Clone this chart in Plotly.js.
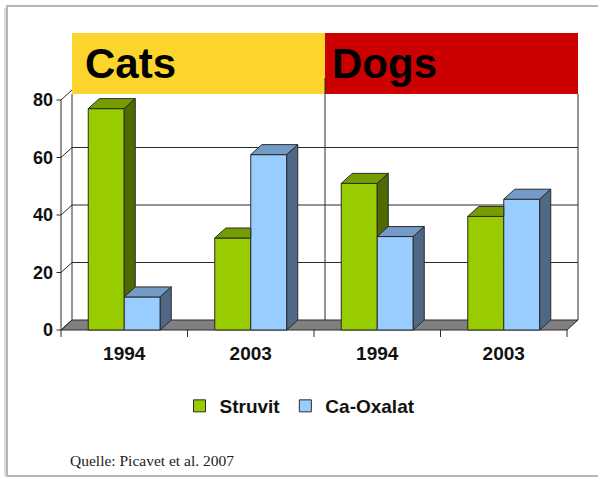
<!DOCTYPE html>
<html><head><meta charset="utf-8">
<script src="https://cdn.plot.ly/plotly-3.0.1.min.js"></script>
<style>html,body{margin:0;padding:0;background:#fff;overflow:hidden}#chart{width:598px;height:477px}</style>
</head><body><div id="chart"></div>
<script>
// ---- data ----
const panels = ['Cats', 'Dogs'];
const years = ['1994', '2003', '1994', '2003'];
const struvit = [77, 32, 51, 39.5];
const caOxalat = [11.5, 61, 32.5, 45.5];
const yTicks = [0, 20, 40, 60, 80];
const source = 'Quelle: Picavet et al. 2007';

// ---- geometry (pixels) ----
const W = 598, H = 477;
const X0 = 61, PX_X = 126.5;   // front x=0 pixel, pixels per category slot
const Y0 = 330, PX_Y = 2.875;  // front y=0 pixel, pixels per unit
const plotL = 56, plotR = 582, plotT = 30, plotB = 334;
const DX = 11 / PX_X, DY = 10 / PX_Y;   // 3D depth offset in data units
const BAR_W = 36 / PX_X;
const xRange = [(plotL - X0) / PX_X, (plotR - X0) / PX_X];
const yRange = [(Y0 - plotB) / PX_Y, (Y0 - plotT) / PX_Y];
const px2x = p => (p - X0) / PX_X;
const px2y = p => (Y0 - p) / PX_Y;
const paperX = p => (p - plotL) / (plotR - plotL);
const paperY = p => (plotB - p) / (plotB - plotT);
const nSlots = years.length;
const centers = years.map((_, i) => i + 0.5);
const yMax = yTicks[yTicks.length - 1];
const bandBottom = px2y(94), bandTop = px2y(33);

const EDGE = '#2a2a2a';
const COLORS = {
  struvit: {front: '#99CC00', top: '#759c00', side: '#4e6a00'},
  caox: {front: '#99CCFF', top: '#739bc6', side: '#4f6886'}
};

const traces = [
  {type: 'bar', name: 'Struvit', x: centers, y: struvit, width: BAR_W, offset: -BAR_W,
   marker: {color: COLORS.struvit.front, line: {color: EDGE, width: 1}}, hoverinfo: 'skip'},
  {type: 'bar', name: 'Ca-Oxalat', x: centers, y: caOxalat, width: BAR_W, offset: 0,
   marker: {color: COLORS.caox.front, line: {color: EDGE, width: 1}}, hoverinfo: 'skip'}
];

function poly(pts, color) {
  traces.push({type: 'scatter', mode: 'lines', fill: 'toself', fillcolor: color,
    x: pts.map(p => p[0]).concat([pts[0][0]]), y: pts.map(p => p[1]).concat([pts[0][1]]),
    line: {color: EDGE, width: 1}, showlegend: false, hoverinfo: 'skip'});
}

centers.forEach((c, i) => {
  const a = struvit[i], b = caOxalat[i];
  const sL = c - BAR_W, sR = c, cL = c, cR = c + BAR_W;
  if (a > b) {
    poly([[sL, a], [sR, a], [sR + DX, a + DY], [sL + DX, a + DY]], COLORS.struvit.top);
    poly([[sR, b], [sR, a], [sR + DX, a + DY], [sR + DX, b + DY]], COLORS.struvit.side);
  } else {
    poly([[sL, a], [sR, a], [sR, a + DY], [sL + DX, a + DY]], COLORS.struvit.top);
  }
  poly([[cL, b], [cR, b], [cR + DX, b + DY], [cL + DX, b + DY]], COLORS.caox.top);
  poly([[cR, 0], [cR + DX, DY], [cR + DX, b + DY], [cR, b]], COLORS.caox.side);
});

// ---- decorations ----
const shapes = [];
const line = (x0, y0, x1, y1, extra) => Object.assign({type: 'line', xref: 'x', yref: 'y', x0, y0, x1, y1,
  line: {color: EDGE, width: 1}, layer: 'below'}, extra || {});
// outer frame
shapes.push({type: 'rect', xref: 'paper', yref: 'paper', x0: paperX(7), x1: paperX(603),
  y0: paperY(476), y1: paperY(6), line: {color: '#b5b5b5', width: 2}, layer: 'below'});
shapes.push({type: 'line', xref: 'paper', yref: 'paper', x0: paperX(5), x1: paperX(5),
  y0: paperY(476), y1: paperY(8), line: {color: '#dcdcdc', width: 2}, layer: 'below'});
// floor
shapes.push({type: 'path', xref: 'x', yref: 'y', layer: 'below', fillcolor: '#808080',
  line: {color: EDGE, width: 1},
  path: `M0,0 L${nSlots},0 L${nSlots + DX},${DY} L${DX},${DY} Z`});
// back wall grid lines
yTicks.slice(1, -1).forEach(v => shapes.push(line(DX, v + DY, nSlots + DX, v + DY)));
shapes.push(line(DX, DY, DX, bandBottom));
shapes.push(line(nSlots + DX, DY, nSlots + DX, bandBottom));
// left wall diagonals + front ticks
yTicks.forEach(v => shapes.push({type: 'path', xref: 'x', yref: 'y', layer: 'below',
  line: {color: EDGE, width: 1}, path: `M${px2x(56.5)},${v} L0,${v} L${DX},${v + DY}`}));
// front y axis line
shapes.push(line(0, 0, 0, yMax));
// x boundary ticks
for (let k = 0; k <= nSlots; k++) {
  shapes.push({type: 'line', xref: 'x', yref: 'paper', x0: k, x1: k, y0: paperY(330), y1: paperY(337),
    line: {color: EDGE, width: 1}, layer: 'below'});
}
// header bands
shapes.push({type: 'rect', xref: 'x', yref: 'y', x0: DX, x1: nSlots / 2 + DX, y0: bandBottom, y1: bandTop,
  fillcolor: '#FCD52C', line: {width: 0}, layer: 'below'});
shapes.push({type: 'rect', xref: 'x', yref: 'y', x0: nSlots / 2 + DX, x1: nSlots + DX, y0: bandBottom, y1: bandTop,
  fillcolor: '#CC0000', line: {width: 0}, layer: 'below'});
shapes.push(line(nSlots / 2 + DX, DY, nSlots / 2 + DX, px2y(78)));

const bandFont = {family: 'Liberation Sans, Arial, sans-serif', size: 42, weight: 'bold', color: '#000'};
const annotations = [
  {text: panels[0], xref: 'x', yref: 'y', x: px2x(83), y: px2y(63), xanchor: 'left', yanchor: 'middle', showarrow: false, font: bandFont},
  {text: panels[1], xref: 'x', yref: 'y', x: px2x(330), y: px2y(63), xanchor: 'left', yanchor: 'middle', showarrow: false, font: bandFont},
  {text: source, xref: 'paper', yref: 'paper', x: paperX(68), y: paperY(460), xanchor: 'left', yanchor: 'middle', showarrow: false,
   font: {family: 'Liberation Serif, Times New Roman, serif', size: 15.5, color: '#222'}}
];

const tickFont = {family: 'Liberation Sans, Arial, sans-serif', weight: 'bold', color: '#111'};

const layout = {
  width: W, height: H,
  margin: {l: plotL, r: W - plotR, t: plotT, b: H - plotB, pad: 0},
  paper_bgcolor: '#fff', plot_bgcolor: 'rgba(0,0,0,0)',
  barmode: 'overlay',
  showlegend: true,
  legend: {orientation: 'h', x: paperX(300), xanchor: 'center', y: paperY(406), yanchor: 'middle',
    font: Object.assign({size: 19}, tickFont), bgcolor: 'rgba(0,0,0,0)', itemwidth: 30, traceorder: 'normal'},
  xaxis: {range: xRange, tickvals: centers, ticktext: years, ticks: '', showgrid: false, zeroline: false,
    showline: false, tickfont: Object.assign({size: 19}, tickFont), ticklabelstandoff: 6, fixedrange: true},
  yaxis: {range: yRange, tickvals: yTicks, ticks: '', showgrid: false, zeroline: false, showline: false,
    tickfont: Object.assign({size: 18}, tickFont), ticklabelstandoff: 2, fixedrange: true},
  shapes, annotations
};

Plotly.newPlot('chart', traces, layout, {staticPlot: true, displayModeBar: false});
</script></body></html>
